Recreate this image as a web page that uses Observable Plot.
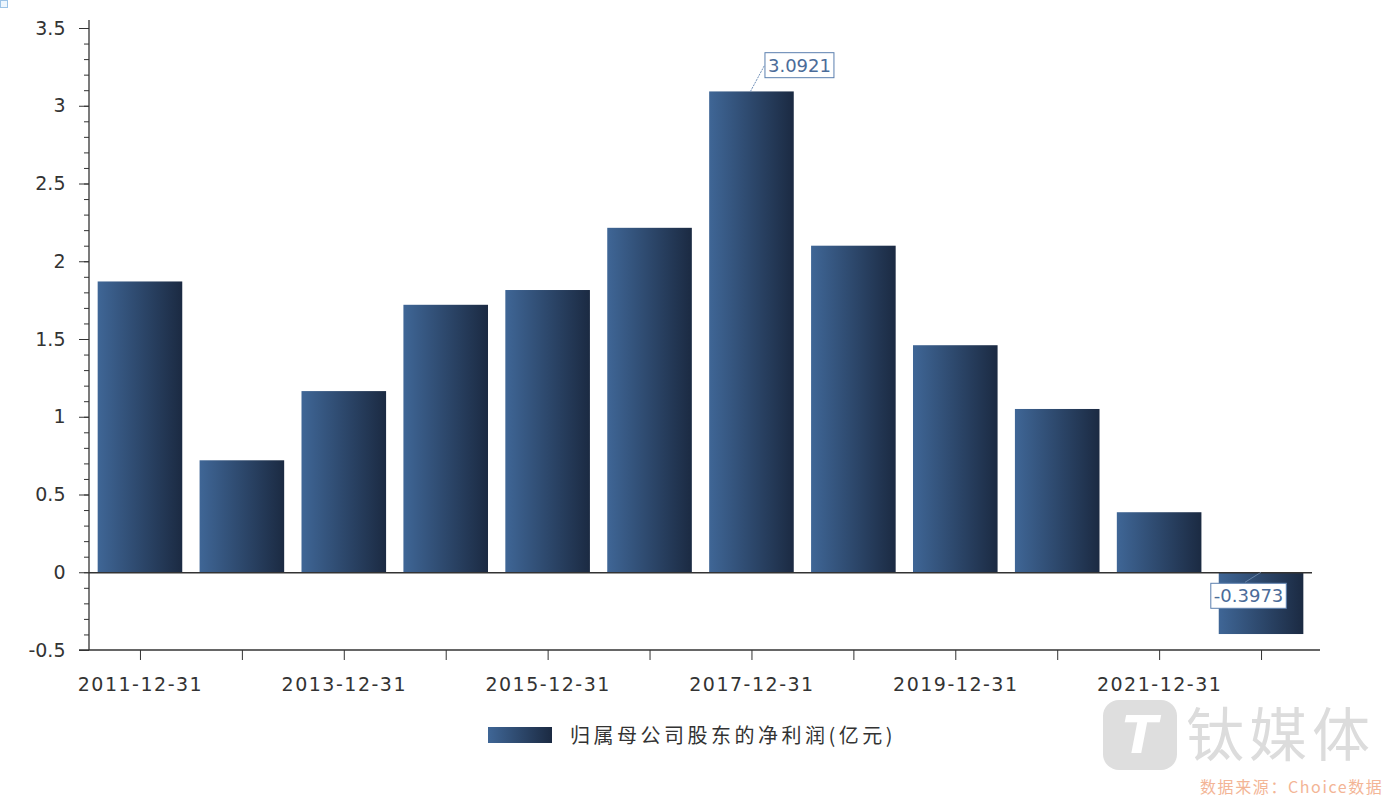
<!DOCTYPE html>
<html>
<head>
<meta charset="utf-8">
<script src="https://cdn.jsdelivr.net/npm/d3@7"></script>
<script src="https://cdn.jsdelivr.net/npm/@observablehq/plot@0.6"></script>
<style>
  html, body { margin: 0; padding: 0; background: #fff; }
  #wrap { position: relative; width: 1399px; height: 798px; overflow: hidden; }
  #legend { position: absolute; left: 488px; top: 720px; display: flex; align-items: center;
            font-family: "Noto Sans CJK SC", sans-serif; font-size: 20px; color: #333; letter-spacing: 3.5px; }
  #legend .sw { width: 64px; height: 16px; margin-right: 18px;
                background: linear-gradient(to right, #3f6696, #1b2a42); }
  #wm-logo { position: absolute; left: 1103px; top: 700px; width: 74px; height: 70px; border-radius: 16px;
             background: #dedede; color: #fff; font: italic bold 52px "DejaVu Sans", sans-serif;
             display: flex; align-items: center; justify-content: center; }
  #wm-text { position: absolute; left: 1186px; top: 699px; font-family: "Noto Sans CJK SC", sans-serif;
             font-size: 58px; color: #dcdcdc; letter-spacing: 5px; line-height: 64px; }
  #src { position: absolute; left: 1200px; top: 776px; font-family: "Noto Sans CJK SC", sans-serif;
         font-size: 16px; color: #f3b596; letter-spacing: 1.6px; line-height: 20px; }
  #corner { position: absolute; left: 0; top: 0; width: 6px; height: 6px; border: 1px solid #9cc3e6; background: #eef6fd; }
</style>
</head>
<body>
<div id="wrap">
  <div id="chart"></div>
  <div id="legend"><div class="sw"></div><span id="legend-label"></span></div>
  <div id="wm-logo">T</div>
  <div id="wm-text">钛媒体</div>
  <div id="src">数据来源：Choice数据</div>
  <div id="corner"></div>
</div>
<script>
const years = ["2011-12-31","2012-12-31","2013-12-31","2014-12-31","2015-12-31","2016-12-31",
               "2017-12-31","2018-12-31","2019-12-31","2020-12-31","2021-12-31","2022-12-31"];
const values = [1.87, 0.72, 1.165, 1.72, 1.815, 2.215, 3.0921, 2.10, 1.46, 1.05, 0.386, -0.3973];
const yTicks = [-0.5, 0, 0.5, 1, 1.5, 2, 2.5, 3, 3.5];
const yMinorTicks = d3.ticks(-0.5, 3.5, 40);
const xLabelYears = ["2011-12-31","2013-12-31","2015-12-31","2017-12-31","2019-12-31","2021-12-31"];
const annotatedYears = ["2017-12-31", "2022-12-31"];
const seriesName = "归属母公司股东的净利润(亿元)";

const data = years.map((year, i) => ({year, value: values[i]}));
const annot = data.filter(d => annotatedYears.includes(d.year));

document.getElementById("legend-label").textContent = seriesName;

const fontFam = "'DejaVu Sans', 'Noto Sans', sans-serif";

const plot = Plot.plot({
  width: 1399,
  height: 712,
  marginLeft: 89,
  marginRight: 87,
  marginTop: 28,
  marginBottom: 62,
  style: {fontFamily: fontFam, fontSize: "19px", color: "#333", background: "white"},
  x: {domain: years, paddingInner: 0.17, paddingOuter: 0.085, round: false, label: null},
  y: {domain: [-0.5, 3.5], label: null},
  marks: [
    Plot.barY(data, {x: "year", y: "value", fill: "url(#barGrad)"}),
    Plot.ruleY([0], {stroke: "#333", strokeWidth: 1.3}),
    Plot.axisY({ticks: yMinorTicks, tickSize: 5, tickFormat: () => "", label: null, stroke: "#333"}),
    Plot.axisY({ticks: yTicks, tickSize: 10, tickPadding: 14, tickFormat: d => String(d), label: null, stroke: "#333", fill: "#333"}),
    Plot.axisX({ticks: years, tickSize: 10, tickPadding: 17, tickFormat: d => xLabelYears.includes(d) ? d : "", label: null, stroke: "#333", fill: "#333"}),
    Plot.text(annot.filter(d => d.value >= 0), {x: "year", y: "value", text: d => d.value.toFixed(4),
      dx: 16, dy: -26, textAnchor: "start", fill: "#4b6c99", fontSize: 18, fontFamily: fontFam}),
    Plot.text(annot.filter(d => d.value < 0), {x: "year", y: "value", text: d => d.value.toFixed(4),
      dx: -13, dy: -38, textAnchor: "middle", fill: "#4b6c99", fontSize: 18, fontFamily: fontFam})
  ]
});

const svg = d3.select(plot);
const defs = svg.insert("defs", ":first-child");
const grad = defs.append("linearGradient").attr("id", "barGrad").attr("x1", "0%").attr("x2", "100%").attr("y1", "0%").attr("y2", "0%");
grad.append("stop").attr("offset", "0%").attr("stop-color", "#3f6696");
grad.append("stop").attr("offset", "100%").attr("stop-color", "#1b2a42");

document.getElementById("chart").appendChild(plot);

svg.selectAll("g[aria-label='x-axis tick label'] text").attr("letter-spacing", "1.5px");

// axis lines
const xs = plot.scale("x"), ys = plot.scale("y");
const y0 = ys.apply(-0.5), yTop = ys.apply(3.5);
const left = xs.range[0], right = xs.range[1];
svg.append("line").attr("x1", left).attr("x2", left).attr("y1", yTop - 8).attr("y2", y0)
  .attr("stroke", "#333").attr("stroke-width", 1.3);
svg.append("line").attr("x1", left - 10).attr("x2", right + 8).attr("y1", y0).attr("y2", y0)
  .attr("stroke", "#333").attr("stroke-width", 1.3);

// label boxes and leader lines
svg.selectAll("g[aria-label='text'] text").each(function() {
  const bb = this.getBBox();
  const t = this.getAttribute("transform");
  const r = d3.select(this.parentNode).insert("rect", () => this)
    .attr("x", bb.x - 3).attr("y", bb.y - 2).attr("width", bb.width + 6).attr("height", bb.height + 4)
    .attr("fill", "white").attr("stroke", "#5b7fae").attr("stroke-width", 1);
  if (t) r.attr("transform", t);
});
annot.forEach(d => {
  const cx = xs.apply(d.year) + xs.bandwidth / 2;
  if (d.value >= 0) {
    const vy = ys.apply(d.value);
    svg.append("line").attr("x1", cx - 1).attr("y1", vy).attr("x2", cx + 13).attr("y2", vy - 26)
      .attr("stroke", "#6f8fb8").attr("stroke-width", 1).attr("stroke-dasharray", "2,1");
  } else {
    const zy = ys.apply(0);
    svg.append("line").attr("x1", cx).attr("y1", zy).attr("x2", cx - 16).attr("y2", zy + 10)
      .attr("stroke", "#8aa6c8").attr("stroke-width", 1).attr("opacity", 0.6);
  }
});
</script>
</body>
</html>
